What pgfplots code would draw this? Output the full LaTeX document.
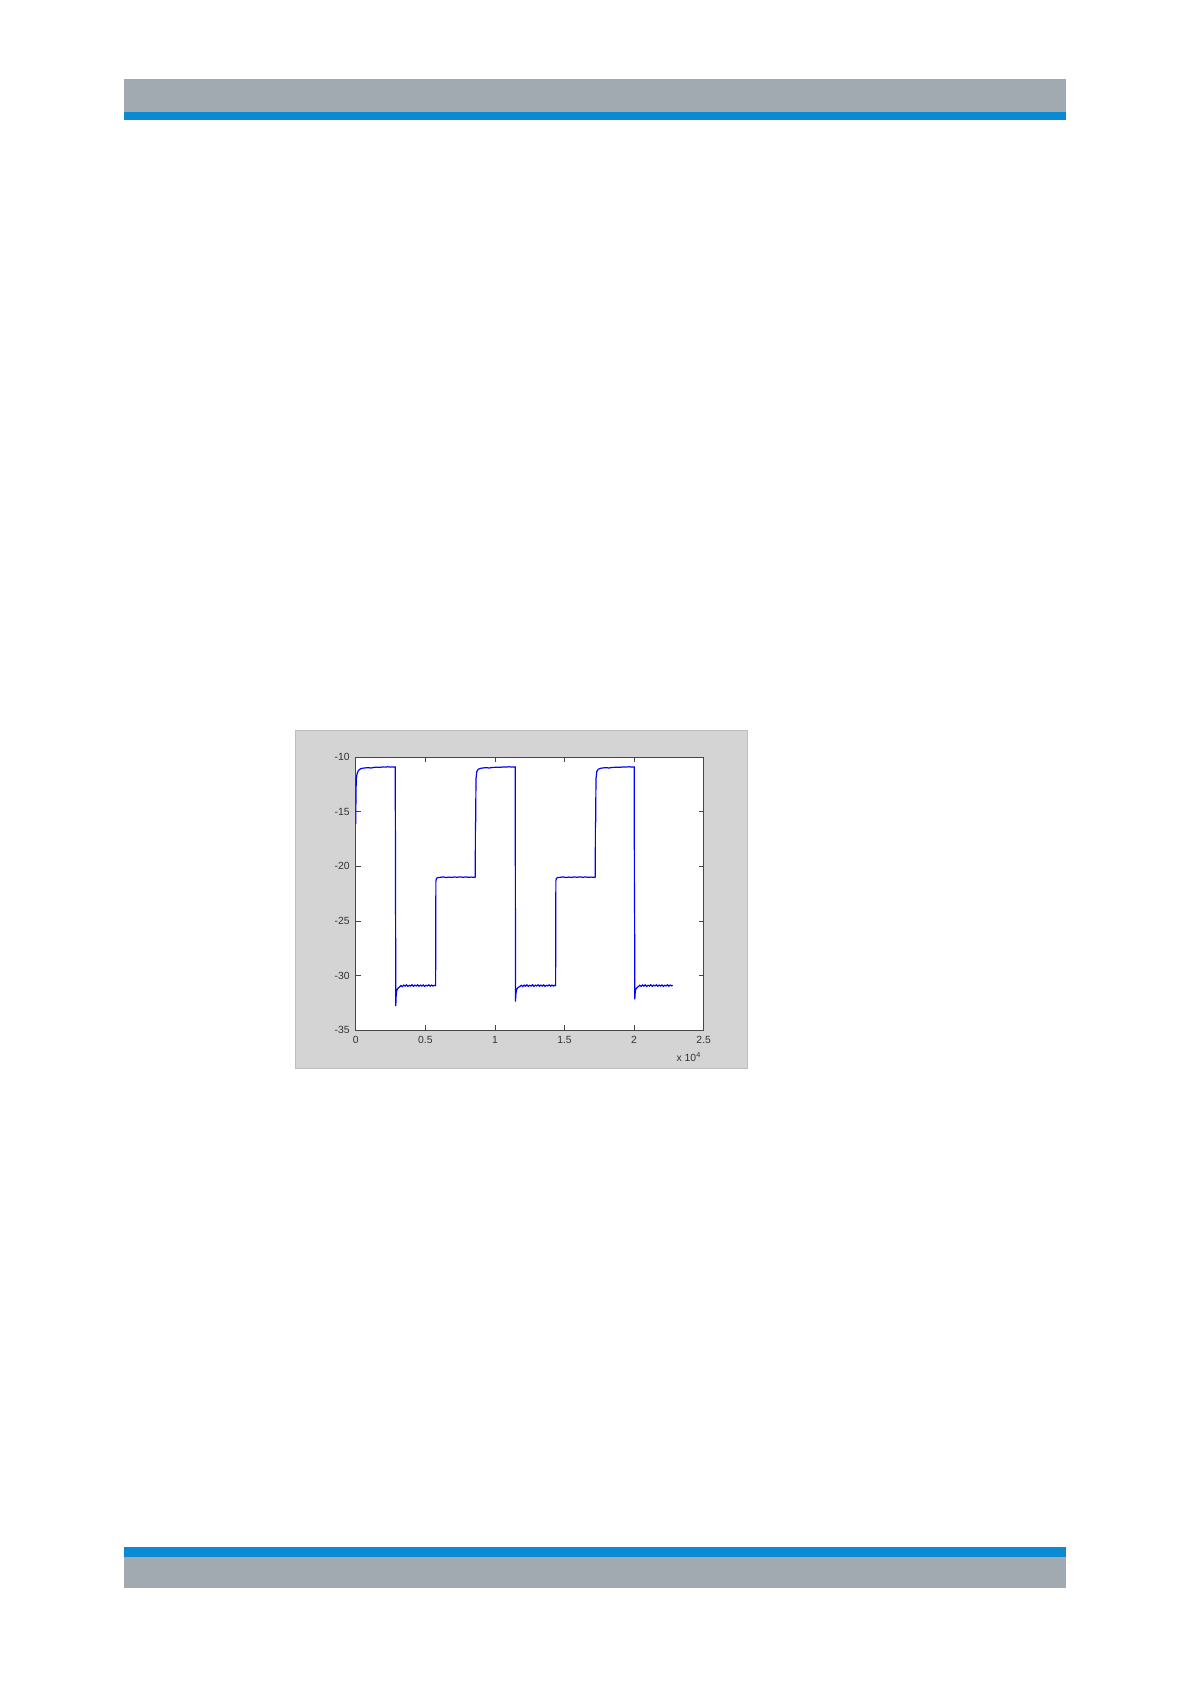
\documentclass[border=0pt]{standalone}
\usepackage{pgfplots}
\pgfplotsset{compat=1.18}
\usepackage{fontspec}
\setmainfont{Liberation Sans}
\definecolor{hdrgray}{RGB}{161,170,176}
\definecolor{hdrblue}{RGB}{10,138,210}
\definecolor{panelgray}{RGB}{212,212,212}
\definecolor{paneledge}{RGB}{190,190,190}
\definecolor{axgray}{RGB}{70,70,70}
\begin{document}
\begin{tikzpicture}
% page frame (1191x1684 px at 0.5pt/px)
\path (0pt,0pt) rectangle (595.5pt,-842pt);
% header bars
\fill[hdrgray] (62pt,-39.5pt) rectangle (533pt,-56pt);
\fill[hdrblue] (62pt,-56pt) rectangle (533pt,-60pt);
% footer bars
\fill[hdrblue] (62pt,-773.5pt) rectangle (533pt,-778.5pt);
\fill[hdrgray] (62pt,-778.5pt) rectangle (533pt,-794pt);
% figure panel
\filldraw[fill=panelgray,draw=paneledge,line width=0.5pt] (147.5pt,-365pt) rectangle (373.5pt,-534pt);
\begin{axis}[
  at={(177.85pt,-378.65pt)}, anchor=north west,
  scale only axis, width=174pt, height=136.35pt,
  xmin=0, xmax=25000, ymin=-35, ymax=-10,
  scaled x ticks=false, scaled y ticks=false,
  xtick={0,5000,10000,15000,20000,25000},
  xticklabels={0,0.5,1,1.5,2,2.5},
  ytick={-35,-30,-25,-20,-15,-10},
  yticklabels={-35,-30,-25,-20,-15,-10},
  axis background/.style={fill=white},
  axis line style={axgray, line width=0.5pt},
  tick style={axgray, line width=0.4pt},
  major tick length=2.5pt,
  tick align=inside,
  ticklabel style={font=\fontsize{5.2}{6}\selectfont, text=black!80},
  xticklabel style={yshift=0.5pt},
  yticklabel style={xshift=0.5pt},
  clip mode=individual,
]
\addplot[blue, line width=0.6pt] coordinates {
(0,-16.1) (20,-13.5) (40,-12.0) (100,-11.5) (200,-11.2) (350,-11.05) (500,-11.0) (700,-10.97) (900,-10.95) (1100,-10.98) (1300,-10.93) (1500,-10.9) (1700,-10.93) (1900,-10.89) (2100,-10.9) (2300,-10.87) (2500,-10.9) (2700,-10.88) (2840,-10.88)
(2860,-21) (2880,-32.8) (2900,-32.0) (2930,-31.5) (2980,-31.3) (3050,-31.15) (3150,-31.05)
(3250,-30.92) (3350,-31.02) (3450,-30.88) (3550,-30.98) (3650,-30.86) (3750,-31.0) (3850,-30.9) (3950,-30.97) (4050,-30.85) (4150,-31.0) (4250,-30.89) (4350,-30.96) (4450,-30.86) (4550,-30.99) (4650,-30.88) (4750,-30.97) (4850,-30.87) (4950,-31.0) (5050,-30.9) (5150,-30.96) (5250,-30.86) (5350,-30.98) (5450,-30.88) (5550,-30.97) (5650,-30.9) (5740,-30.93)
(5760,-21.4) (5800,-21.1) (5900,-21.03) (6100,-21.0) (6300,-20.97) (6500,-21.02) (6700,-20.98) (6900,-21.01) (7100,-20.97) (7300,-21.0) (7500,-20.96) (7700,-21.0) (7900,-20.97) (8100,-21.0) (8300,-20.98) (8500,-21.0) (8590,-20.98)
(8600,-16.0) (8620,-15.9) (8640,-12.0) (8700,-11.3) (8800,-11.1) (9000,-11.0) (9200,-10.97) (9400,-10.95) (9600,-10.98) (9800,-10.93) (10000,-10.92) (10200,-10.9) (10400,-10.92) (10600,-10.88) (10800,-10.9) (11000,-10.87) (11200,-10.89) (11460,-10.88)
(11480,-32.4) (11500,-31.8) (11540,-31.4) (11600,-31.2) (11700,-31.08) (11800,-31.0)
(11900,-30.9) (12000,-31.02) (12100,-30.88) (12200,-30.98) (12300,-30.86) (12400,-31.0) (12500,-30.9) (12600,-30.97) (12700,-30.85) (12800,-31.0) (12900,-30.89) (13000,-30.96) (13100,-30.86) (13200,-30.99) (13300,-30.88) (13400,-30.97) (13500,-30.87) (13600,-31.0) (13700,-30.9) (13800,-30.96) (13900,-30.86) (14000,-30.98) (14100,-30.88) (14200,-30.97) (14300,-30.9) (14360,-30.93)
(14380,-21.3) (14420,-21.1) (14500,-21.03) (14700,-21.0) (14900,-20.97) (15100,-21.02) (15300,-20.98) (15500,-21.01) (15700,-20.97) (15900,-21.0) (16100,-20.96) (16300,-21.0) (16500,-20.97) (16700,-21.0) (16900,-20.98) (17100,-21.0) (17210,-20.98)
(17220,-16.0) (17240,-15.9) (17260,-12.0) (17320,-11.3) (17420,-11.1) (17600,-11.0) (17800,-10.97) (18000,-10.95) (18200,-10.98) (18400,-10.93) (18600,-10.92) (18800,-10.9) (19000,-10.92) (19200,-10.88) (19400,-10.9) (19600,-10.87) (19800,-10.89) (20010,-10.88)
(20020,-21.5) (20030,-21.6) (20050,-32.2) (20070,-31.7) (20110,-31.3) (20180,-31.15) (20300,-31.02)
(20400,-30.9) (20500,-31.0) (20600,-30.87) (20700,-30.98) (20800,-30.86) (20900,-31.0) (21000,-30.9) (21100,-30.97) (21200,-30.85) (21300,-31.0) (21400,-30.89) (21500,-30.96) (21600,-30.86) (21700,-30.99) (21800,-30.88) (21900,-30.97) (22000,-30.87) (22100,-31.0) (22200,-30.9) (22300,-30.96) (22400,-30.86) (22500,-30.98) (22600,-30.88) (22700,-30.95) (22770,-30.9)
};
\node[anchor=north east, inner sep=0pt, font=\fontsize{5.2}{6}\selectfont, text=black!80] at (rel axis cs:1,0) [yshift=-11pt, xshift=-1pt] {x 10\textsuperscript{4}};
\end{axis}
\end{tikzpicture}
\end{document}
